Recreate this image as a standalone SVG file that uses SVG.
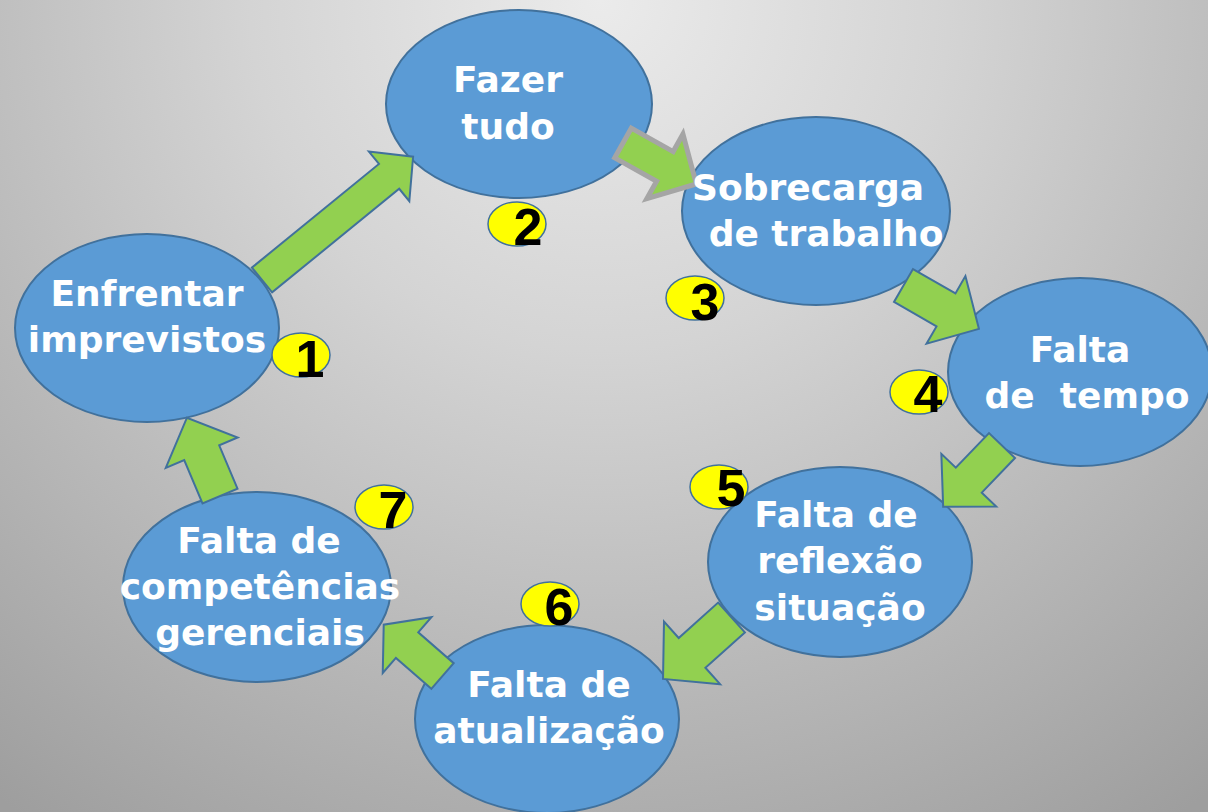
<svg xmlns="http://www.w3.org/2000/svg" width="1208" height="812" viewBox="0 0 1208 812">
<defs>
<radialGradient id="bg" gradientUnits="userSpaceOnUse" cx="600" cy="0" r="1000" fx="600" fy="0">
<stop offset="0" stop-color="#ebebeb"/>
<stop offset="0.35" stop-color="#d4d4d4"/>
<stop offset="1" stop-color="#9e9e9e"/>
</radialGradient>
<style>
.node{fill:#5b9bd5;stroke:#41719c;stroke-width:2}
.lbl{font-family:"DejaVu Sans",Verdana,sans-serif;font-weight:bold;font-size:36px;fill:#ffffff;text-anchor:middle}
.arr{fill:#92d050;stroke:#41719c;stroke-width:2;stroke-linejoin:miter}
.arr-g{fill:#92d050;stroke:#a5a5a5;stroke-width:5;stroke-linejoin:miter}
.badge{fill:#ffff00;stroke:#41719c;stroke-width:1.5}
.num{font-family:"Liberation Sans",Arial,sans-serif;font-weight:bold;font-size:52px;fill:#000000;text-anchor:middle}
</style>
</defs>
<rect x="0" y="0" width="1208" height="812" fill="url(#bg)"/>

<g id="node-1"><ellipse class="node" cx="147" cy="328" rx="132" ry="94"/></g>
<g id="node-2"><ellipse class="node" cx="519" cy="104" rx="133" ry="94"/></g>
<g id="node-3"><ellipse class="node" cx="816" cy="211" rx="134" ry="94"/></g>
<g id="node-4"><ellipse class="node" cx="1080" cy="372" rx="132" ry="94"/></g>
<g id="node-5"><ellipse class="node" cx="840" cy="562" rx="132" ry="95"/></g>
<g id="node-6"><ellipse class="node" cx="547" cy="719" rx="132" ry="94"/></g>
<g id="node-7"><ellipse class="node" cx="257" cy="587" rx="134" ry="95"/></g>

<g id="connectors">
<polygon class="arr" transform="translate(262,280) rotate(-39.2)" points="0,-16 164,-16 164,-32 195,0 164,32 164,16 0,16"/>
<polygon class="arr-g" transform="translate(623,143) rotate(29.2)" points="0,-17 48,-17 48,-37 84,0 48,37 48,17 0,17"/>
<polygon class="arr" transform="translate(903.5,285.5) rotate(29.9)" points="0,-19 49,-19 49,-39 87,0 49,39 49,19 0,19"/>
<polygon class="arr" transform="translate(1002,445.5) rotate(133.8)" points="0,-18 48,-18 48,-38 85,0 48,38 48,18 0,18"/>
<polygon class="arr" transform="translate(731.5,617.5) rotate(138.1)" points="0,-20 53,-20 53,-42 92,0 53,42 53,20 0,20"/>
<polygon class="arr" transform="translate(442.5,676) rotate(-138.9)" points="0,-17 47,-17 47,-37 78,0 47,37 47,17 0,17"/>
<polygon class="arr" transform="translate(220,496) rotate(-112.9)" points="0,-19 47,-19 47,-39 85,0 47,39 47,19 0,19"/>
</g>

<g id="labels">
<text class="lbl" x="147" y="306">Enfrentar</text>
<text class="lbl" x="147" y="352">imprevistos</text>
<text class="lbl" x="508" y="92">Fazer</text>
<text class="lbl" x="508" y="139">tudo</text>
<text class="lbl" x="808" y="200">Sobrecarga</text>
<text class="lbl" x="826" y="246">de trabalho</text>
<text class="lbl" x="1080" y="362">Falta</text>
<text class="lbl" x="1087" y="408" style="white-space:pre">de  tempo</text>
<text class="lbl" x="836" y="527">Falta de</text>
<text class="lbl" x="840" y="573">reflexão</text>
<text class="lbl" x="840" y="620">situação</text>
<text class="lbl" x="549" y="697">Falta de</text>
<text class="lbl" x="549" y="743">atualização</text>
<text class="lbl" x="259" y="553">Falta de</text>
<text class="lbl" x="260" y="599">competências</text>
<text class="lbl" x="260" y="645">gerenciais</text>
</g>

<g id="badge-1"><ellipse class="badge" cx="301" cy="355" rx="29" ry="22"/><text class="num" x="310" y="377">1</text></g>
<g id="badge-2"><ellipse class="badge" cx="517" cy="224" rx="29" ry="22"/><text class="num" x="528" y="245">2</text></g>
<g id="badge-3"><ellipse class="badge" cx="695" cy="298" rx="29" ry="22"/><text class="num" x="705" y="320">3</text></g>
<g id="badge-4"><ellipse class="badge" cx="919" cy="392" rx="29" ry="22"/><text class="num" x="928" y="412">4</text></g>
<g id="badge-5"><ellipse class="badge" cx="719" cy="487" rx="29" ry="22"/><text class="num" x="731" y="506">5</text></g>
<g id="badge-6"><ellipse class="badge" cx="550" cy="604" rx="29" ry="22"/><text class="num" x="559" y="625">6</text></g>
<g id="badge-7"><ellipse class="badge" cx="384" cy="507" rx="29" ry="22"/><text class="num" x="393" y="528">7</text></g>
</svg>
